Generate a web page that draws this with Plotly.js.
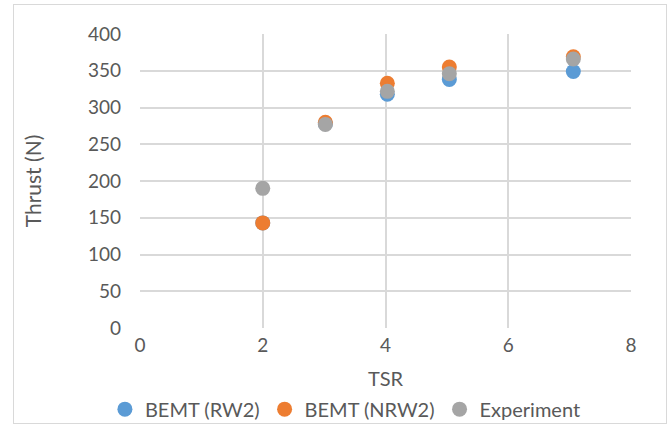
<!DOCTYPE html>
<html><head><meta charset="utf-8">
<script src="https://cdn.plot.ly/plotly-3.0.1.min.js"></script>
<style>body{margin:0;background:#fff}#c{width:672px;height:428px}
#frame{position:absolute;left:13px;top:4px;width:654px;height:420px;border:1px solid #d9d9d9;box-sizing:border-box;pointer-events:none}</style>
</head><body><div id="c"></div><div id="frame"></div>
<script>
const tsr = [2, 3.02, 4.03, 5.04, 7.06];
const bemtRW2 = [143, 278, 318, 338, 349];
const bemtNRW2 = [143, 280, 333, 355, 369];
const experiment = [190, 277, 322, 346, 366];
const seriesNames = ['BEMT (RW2)', 'BEMT (NRW2)', 'Experiment'];
const colors = ['#5b9bd5', '#ed7d31', '#a5a5a5'];
const font = 'Lato, "Open Sans", sans-serif';
const traces = [bemtRW2, bemtNRW2, experiment].map((ys, i) => ({
  x: tsr, y: ys, name: seriesNames[i], type: 'scatter', mode: 'markers',
  marker: {color: colors[i], size: 15}
}));
Plotly.newPlot('c', traces, {
  width: 672, height: 428,
  margin: {l: 140, r: 41, t: 34, b: 100},
  paper_bgcolor: '#fff', plot_bgcolor: '#fff',
  font: {family: font, color: '#595959', size: 18},
  xaxis: {range: [0, 8], dtick: 2, showgrid: true, gridcolor: '#d9d9d9', gridwidth: 2,
    zeroline: false, showline: false, ticks: '', tickfont: {size: 19}, ticklabelstandoff: 4,
    title: {text: 'TSR', font: {size: 20}, standoff: 30}, fixedrange: true, automargin: false},
  yaxis: {range: [0, 400], dtick: 50, showgrid: true, gridcolor: '#d9d9d9', gridwidth: 2,
    zeroline: false, showline: false, ticks: '', tickfont: {size: 19}, ticklabelstandoff: 18,
    title: {text: 'Thrust (N)', font: {size: 21}, standoff: 40}, fixedrange: true, automargin: false},
  legend: {orientation: 'h', xref: 'container', x: 0.514, xanchor: 'center',
    yref: 'container', y: 0.044, yanchor: 'middle',
    font: {size: 20}, itemwidth: 20, tracegroupgap: 0},
  showlegend: true
}, {displayModeBar: false, staticPlot: true});
</script></body></html>
